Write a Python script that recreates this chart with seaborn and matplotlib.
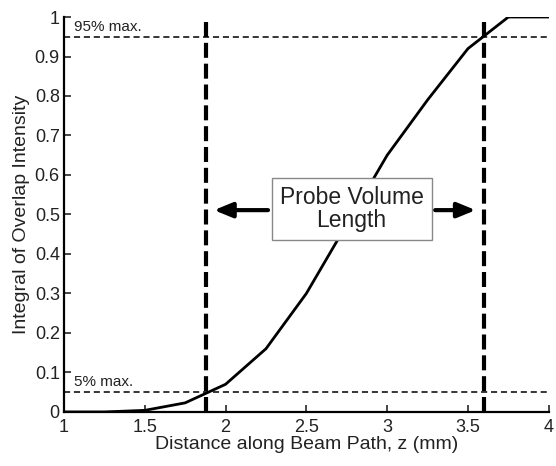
import matplotlib
matplotlib.use("Agg")
import matplotlib.pyplot as plt
import seaborn as sns
import pandas as pd

z_mm = [1.0, 1.25, 1.5, 1.75, 2.0, 2.25, 2.5, 2.75, 3.0, 3.25, 3.5, 3.75, 4.0]
overlap = [0.0, 0.0, 0.004, 0.023, 0.07, 0.16, 0.30, 0.475, 0.65, 0.79, 0.92, 1.0, 1.0]
x_ticks = [1, 1.5, 2, 2.5, 3, 3.5, 4]
x_tick_labels = ["1", "1.5", "2", "2.5", "3", "3.5", "4"]
y_ticks = [0, 0.1, 0.2, 0.3, 0.4, 0.5, 0.6, 0.7, 0.8, 0.9, 1]
y_tick_labels = ["0", "0.1", "0.2", "0.3", "0.4", "0.5", "0.6", "0.7", "0.8", "0.9", "1"]
levels = [0.05, 0.95]
level_labels = ["5% max.", "95% max."]
bounds = [1.876, 3.60]
box_text = "Probe Volume\nLength"

sns.set_style("white")
plt.rcParams["font.family"] = ["Liberation Sans", "DejaVu Sans"]
txt = "#222222"

fig = plt.figure(figsize=(5.56, 4.66), dpi=100)
ax = fig.add_axes([0.115, 0.116, 0.872, 0.8475])

df = pd.DataFrame({"z": z_mm, "I": overlap})
sns.lineplot(data=df, x="z", y="I", ax=ax, color="black", linewidth=2.0)

for lv in levels:
    ax.axhline(lv, color="black", linestyle=(0, (4, 2.5)), linewidth=1.1)
for b in bounds:
    ax.axvline(b, color="black", linestyle=(0, (3.6, 1.4)), linewidth=3.0)

ax.text(1.06, 0.956, level_labels[1], fontsize=11, color=txt, va="bottom", ha="left")
ax.text(1.06, 0.057, level_labels[0], fontsize=11, color=txt, va="bottom", ha="left")

ax.text(2.78, 0.513, box_text, fontsize=16.5, color=txt, ha="center", va="center",
        linespacing=1.0,
        bbox=dict(boxstyle="square,pad=0.35", facecolor="white", edgecolor="#888888", linewidth=1.0))
ax.annotate("", xy=(bounds[0] + 0.035, 0.511), xytext=(2.28, 0.511),
            arrowprops=dict(arrowstyle="-|>,head_length=1.1,head_width=0.45", color="black", lw=3))
ax.annotate("", xy=(bounds[1] - 0.035, 0.511), xytext=(3.28, 0.511),
            arrowprops=dict(arrowstyle="-|>,head_length=1.1,head_width=0.45", color="black", lw=3))

ax.set_xlim(1, 4)
ax.set_ylim(0, 1)
ax.set_xticks(x_ticks)
ax.set_xticklabels(x_tick_labels)
ax.set_yticks(y_ticks)
ax.set_yticklabels(y_tick_labels)
ax.tick_params(direction="in", length=5, width=1.2, labelsize=13, labelcolor=txt,
               bottom=True, left=True)
ax.tick_params(axis="x", pad=5)
ax.tick_params(axis="y", pad=3)
ax.set_xlabel("Distance along Beam Path, z (mm)", fontsize=14, color=txt, labelpad=0)
ax.set_ylabel("Integral of Overlap Intensity", fontsize=14, color=txt, labelpad=3)
for s in ["top", "right"]:
    ax.spines[s].set_visible(False)
for s in ["left", "bottom"]:
    ax.spines[s].set_color("black")
    ax.spines[s].set_linewidth(1.6)

fig.savefig("out.png", dpi=100)
